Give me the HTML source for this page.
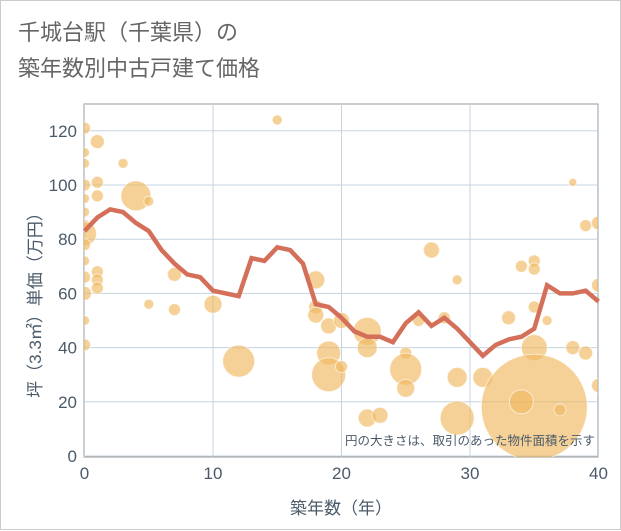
<!DOCTYPE html>
<html><head><meta charset="utf-8"><style>
body{margin:0;background:#fff;font-family:"Liberation Sans","Noto Sans CJK JP",sans-serif;}
#wrap{position:relative;width:619px;height:528px;border:1px solid #ccc;}
.t{position:absolute;left:17px;color:#666;font-size:22px;}
</style></head><body>
<div id="wrap">
<div class="t" style="top:14px">千城台駅（千葉県）の</div>
<div class="t" style="top:50px">築年数別中古戸建て価格</div>
<svg id="c" width="621" height="530" style="position:absolute;left:0;top:0"></svg>
</div>
<script>
const years=[0,1,2,3,4,5,6,7,8,9,10,11,12,13,14,15,16,17,18,19,20,21,22,23,24,25,26,27,28,29,30,31,32,33,34,35,36,37,38,39,40];
const avgPrice=[83,88,91,90,86,83,76,71,67,66,61,60,59,73,72,77,76,71,56,55,51,46,44,44,42,49,53,48,51,47,42,37,41,43,44,47,63,60,60,61,57];
const bubbleX=[0,0,0,0,0,0,0,0,0,0,0,0,0,0, 1,1,1,1,1,1, 3,4,5,5,7,7,10,12,15, 18,18,18,19,19,19,20,20, 22,22,22,23,25,25,25,26,27,28,29,29,29,31,33,34,35,35,35,35,35,34,37,36,38,38,39,40,40,39,40];
const bubbleY=[121,112,108,100,95,90,85,82,78,72,66,60,50,41, 116,101,96,68,65,62, 108,96,94,56,67,54,56,35,124, 65,55,52,48,38,30,50,33, 46,40,14,15,38,32,25,50,76,51,65,29,14,29,51,70,72,69,55,40,18,20,17,50,40,101,85,86,63,38,26];
const bubbleR=[6,5,5,6,5,5,6,12,6,5,6,7,5,6, 7,6,6,6,6,6, 5,15,5,5,7,6,9,16,5, 9,7,8,8,12,17,8,6, 14,10,9,8,6,16,9,6,8,6,5,10,17,10,7,6,6,6,6,13,53,12,6,5,7,4,6,7,7,7,7];
const X0=83.5,XS=12.85,Y0=455,YS=2.71;
const xs=v=>X0+v*XS, ys=v=>Y0-v*YS;
const svg=document.getElementById('c'),NS='http://www.w3.org/2000/svg';
function mk(t,a,p){const e=document.createElementNS(NS,t);for(const k in a)e.setAttribute(k,a[k]);(p||svg).appendChild(e);return e;}
mk('rect',{x:83,y:103,width:514,height:353,fill:'#fff',stroke:'#999','stroke-width':1});
const xt=[0,10,20,30,40],yt=[0,20,40,60,80,100,120];
xt.forEach(v=>{const g=mk('line',{x1:xs(v),x2:xs(v),y1:103,y2:456,stroke:'#c5d3e0'});

const t=mk('text',{x:xs(v),y:478,'text-anchor':'middle','font-size':17,fill:'#4a5a6a'});t.textContent=v;
});
yt.forEach(v=>{const g=mk('line',{x1:83,x2:597,y1:ys(v),y2:ys(v),stroke:'#c5d3e0'});

const t=mk('text',{x:76,y:ys(v)+6,'text-anchor':'end','font-size':17,fill:'#4a5a6a'});t.textContent=v;
});
mk('clipPath',{id:'pc'});mk('rect',{x:83,y:103,width:514,height:353},document.getElementById('pc'));
const gb=mk('g',{'clip-path':'url(#pc)'});
bubbleX.forEach((v,i)=>{const c=mk('circle',{cx:xs(v),cy:ys(bubbleY[i]),r:bubbleR[i],fill:'rgba(239,185,95,0.65)',stroke:'rgba(255,255,255,0.6)','stroke-width':1},gb);
});
const l=mk('polyline',{points:years.map((v,i)=>xs(v)+','+ys(avgPrice[i])).join(' '),fill:'none',stroke:'#d4705a','stroke-width':4.5,'stroke-linejoin':'miter'});

const n=mk('text',{x:594,y:444,'text-anchor':'end','font-size':12.5,fill:'#4a5a6a'});n.textContent='円の大きさは、取引のあった物件面積を示す';

const xl=mk('text',{x:340,y:513,'text-anchor':'middle','font-size':17,fill:'#4a5a6a'});xl.textContent='築年数（年）';

const yl=mk('text',{x:0,y:0,'text-anchor':'middle','font-size':17,fill:'#4a5a6a',transform:'translate(40,300) rotate(-90)'});yl.textContent='坪（3.3㎡）単価（万円）';

</script>
</body></html>
